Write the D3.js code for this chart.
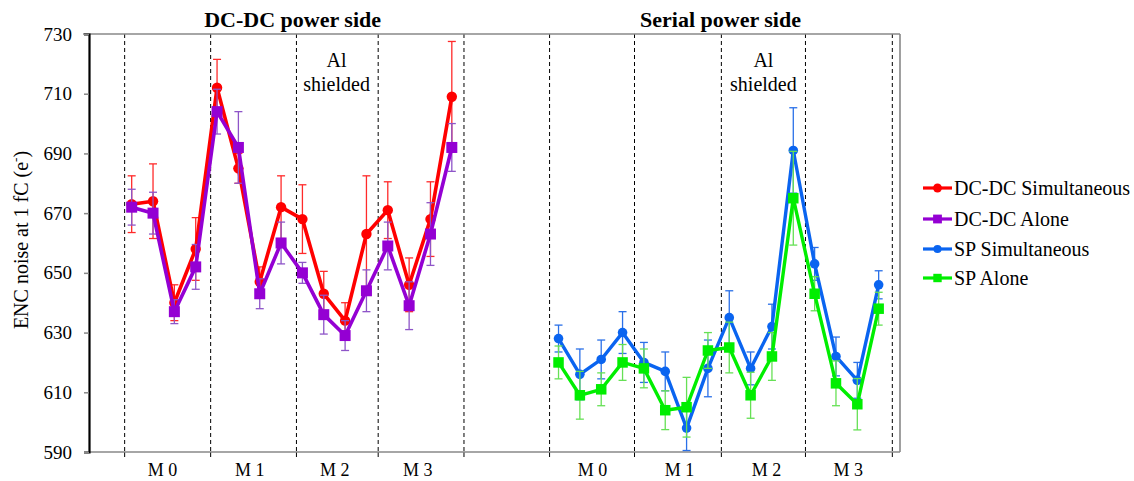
<!DOCTYPE html>
<html><head><meta charset="utf-8">
<script src="https://cdn.jsdelivr.net/npm/d3@7"></script>
<style>
body{margin:0;background:#fff}
svg{display:block}
</style>
</head><body>
<svg id="c" width="1134" height="481" style="font-family:'Liberation Serif','Times New Roman',serif"></svg>
<script>
// ---------- data ----------
const yTicks = [590, 610, 630, 650, 670, 690, 710, 730];
const moduleLabels = ["M 0", "M 1", "M 2", "M 3", "M 0", "M 1", "M 2", "M 3"];
const moduleLabelSlots = [1.45, 5.53, 9.51, 13.4, 21.59, 25.67, 29.74, 33.58];
const panelTitles = ["DC-DC power side", "Serial power side"];
const panelTitleSlots = [7.54, 27.59];
const annotationLines = ["Al", "shielded"];
const annotationSlots = [9.6, 29.6];
const separatorSlots = [-0.33, 3.7, 7.72, 11.55, 15.57, 19.58, 23.56, 27.63, 31.57, 35.64];
const leftSlots = [0,1,2,3,4,5,6,7,8,9,10,11,12,13,14,15];
const rightSlots = [20,21,22,23,24,25,26,27,28,29,30,31,32,33,34,35];

const dcdcSimultaneous    = [673, 674, 640, 658, 712, 685, 647, 672, 668, 643, 634, 663, 671, 646, 668, 709];
const dcdcSimultaneousErr = [9.5, 12.5, 6, 10.5, 9.5, 5, 5, 10.5, 11.5, 7.5, 6, 19.5, 9.5, 9, 12.5, 18.5];
const dcdcAlone           = [672, 670, 637, 652, 704, 692, 643, 660, 650, 636, 629, 644, 659, 639, 663, 692];
const dcdcAloneErr        = [6, 7, 4, 7.5, 7.5, 12, 5, 7, 3.5, 6.5, 5, 7, 8, 8, 10.5, 8];
const spSimultaneous      = [628, 616, 621, 630, 620, 617, 598, 618, 635, 618, 632, 691, 653, 622, 614, 646];
const spSimultaneousErr   = [4.5, 8.5, 6.5, 7, 6.7, 6.5, 7.5, 9.5, 9, 5.5, 7.5, 14.3, 5.5, 6.5, 6, 4.7];
const spAlone             = [620, 609, 611, 620, 618, 604, 605, 624, 625, 609, 622, 675, 643, 613, 606, 638];
const spAloneErr          = [5.5, 8, 5.5, 6, 6.5, 6.5, 10, 6, 8.5, 7.7, 8, 15.7, 5.7, 7.5, 8.6, 5.5];

const seriesNames = ["DC-DC Simultaneous", "DC-DC Alone", "SP Simultaneous", "SP Alone"];

// ---------- layout ----------
const FONT = "'Liberation Serif','Times New Roman',serif";
const svg = d3.select("#c");
const L = 89, R = 900, T = 34, B = 452;
const x = d3.scaleLinear().domain([-2, 36]).range([L, R]);
const y = d3.scaleLinear().domain([590, 730]).range([B, T]);

function txt(sel, size, weight) {
  return sel.style("font-family", FONT).style("font-size", size + "px")
    .style("font-weight", weight || "normal").attr("fill", "#000");
}

const series = [
  {name: seriesNames[0], slots: leftSlots,  v: dcdcSimultaneous, e: dcdcSimultaneousErr, color: "#ff0000", err: "#ff2a2a", shape: "circle", size: 5.2, lw: 3.6},
  {name: seriesNames[1], slots: leftSlots,  v: dcdcAlone,        e: dcdcAloneErr,        color: "#9400d3", err: "#8e55c8", shape: "square", size: 11, lw: 3.6},
  {name: seriesNames[2], slots: rightSlots, v: spSimultaneous,   e: spSimultaneousErr,   color: "#0a64f0", err: "#2a70e8", shape: "circle", size: 4.8, lw: 3.4},
  {name: seriesNames[3], slots: rightSlots, v: spAlone,          e: spAloneErr,          color: "#00ee00", err: "#66e055", shape: "square", size: 10.5, lw: 3.4}
];

// separators (dashed)
svg.append("g").selectAll("line").data(separatorSlots).join("line")
  .attr("x1", d => x(d)).attr("x2", d => x(d))
  .attr("y1", T).attr("y2", B)
  .attr("stroke", "#000").attr("stroke-width", 1).attr("stroke-dasharray", "4,3");
svg.append("g").selectAll("line").data(separatorSlots).join("line")
  .attr("x1", d => x(d)).attr("x2", d => x(d))
  .attr("y1", B).attr("y2", B + 5)
  .attr("stroke", "#000").attr("stroke-width", 1);

// frame
svg.append("line").attr("x1", 83).attr("x2", R).attr("y1", T).attr("y2", T).attr("stroke", "#888").attr("stroke-width", 1.6);
svg.append("line").attr("x1", R).attr("x2", R).attr("y1", T).attr("y2", B).attr("stroke", "#888").attr("stroke-width", 1.6);
svg.append("line").attr("x1", L).attr("x2", R).attr("y1", B).attr("y2", B).attr("stroke", "#888").attr("stroke-width", 1.6);

// y axis
const ya = svg.append("g").attr("transform", `translate(${L},0)`)
  .call(d3.axisLeft(y).tickValues(yTicks).tickSize(5).tickPadding(12).tickFormat(d3.format("d")));
ya.attr("font-family", null).attr("font-size", null);
ya.select(".domain").attr("stroke", "#000").attr("stroke-width", 2.2);
ya.selectAll(".tick line").attr("stroke", "#888").attr("stroke-width", 1.5);
txt(ya.selectAll(".tick text"), 19);

// y title
const yt = txt(svg.append("text").attr("transform", "translate(28,240) rotate(-90)")
  .attr("text-anchor", "middle"), 20);
yt.append("tspan").text("ENC noise at 1 fC (e");
yt.append("tspan").text("-").attr("dy", -8).style("font-size", "13px");
yt.append("tspan").text(")").attr("dy", 8);

// module labels
txt(svg.append("g").selectAll("text").data(moduleLabels).join("text")
  .attr("x", (d, i) => x(moduleLabelSlots[i])).attr("y", 476)
  .attr("text-anchor", "middle"), 18).text(d => d);

// panel titles
txt(svg.append("g").selectAll("text").data(panelTitles).join("text")
  .attr("x", (d, i) => x(panelTitleSlots[i])).attr("y", 27)
  .attr("text-anchor", "middle"), 22, "bold").text(d => d);

// annotations
annotationSlots.forEach(s => {
  annotationLines.forEach((t, j) => {
    txt(svg.append("text").attr("x", x(s)).attr("y", 67 + j * 24)
      .attr("text-anchor", "middle"), 20).text(t);
  });
});

// series
function marker(g, s, cx, cy, scale) {
  if (s.shape === "circle") {
    g.append("circle").attr("cx", cx).attr("cy", cy).attr("r", s.size * scale).attr("fill", s.color);
  } else {
    const w = s.size * scale;
    g.append("rect").attr("x", cx - w / 2).attr("y", cy - w / 2).attr("width", w).attr("height", w).attr("fill", s.color);
  }
}
const line = d3.line();
series.forEach(s => {
  const g = svg.append("g");
  const pts = s.v.map((v, i) => ({sx: s.slots[i], v, e: s.e[i]}));
  const eb = g.append("g").attr("stroke", s.err).attr("stroke-width", 1.3);
  pts.forEach(p => {
    const cx = x(p.sx);
    eb.append("line").attr("x1", cx).attr("x2", cx).attr("y1", y(p.v - p.e)).attr("y2", y(p.v + p.e));
    eb.append("line").attr("x1", cx - 4).attr("x2", cx + 4).attr("y1", y(p.v - p.e)).attr("y2", y(p.v - p.e));
    eb.append("line").attr("x1", cx - 4).attr("x2", cx + 4).attr("y1", y(p.v + p.e)).attr("y2", y(p.v + p.e));
  });
  g.append("path").attr("d", line(pts.map(p => [x(p.sx), y(p.v)])))
    .attr("fill", "none").attr("stroke", s.color).attr("stroke-width", s.lw).attr("stroke-linejoin", "round");
  pts.forEach(p => marker(g, s, x(p.sx), y(p.v), 1));
});

// legend
const legendY = [188, 219, 249, 278];
series.forEach((s, i) => {
  const g = svg.append("g");
  const ly = legendY[i];
  g.append("line").attr("x1", 923).attr("x2", 952).attr("y1", ly).attr("y2", ly)
    .attr("stroke", s.color).attr("stroke-width", 3.2);
  marker(g, s, 937.5, ly, s.shape === "circle" ? 0.85 : 0.8);
  txt(g.append("text").attr("x", 954).attr("y", ly + 7), 20).text(s.name);
});
</script>
</body></html>
